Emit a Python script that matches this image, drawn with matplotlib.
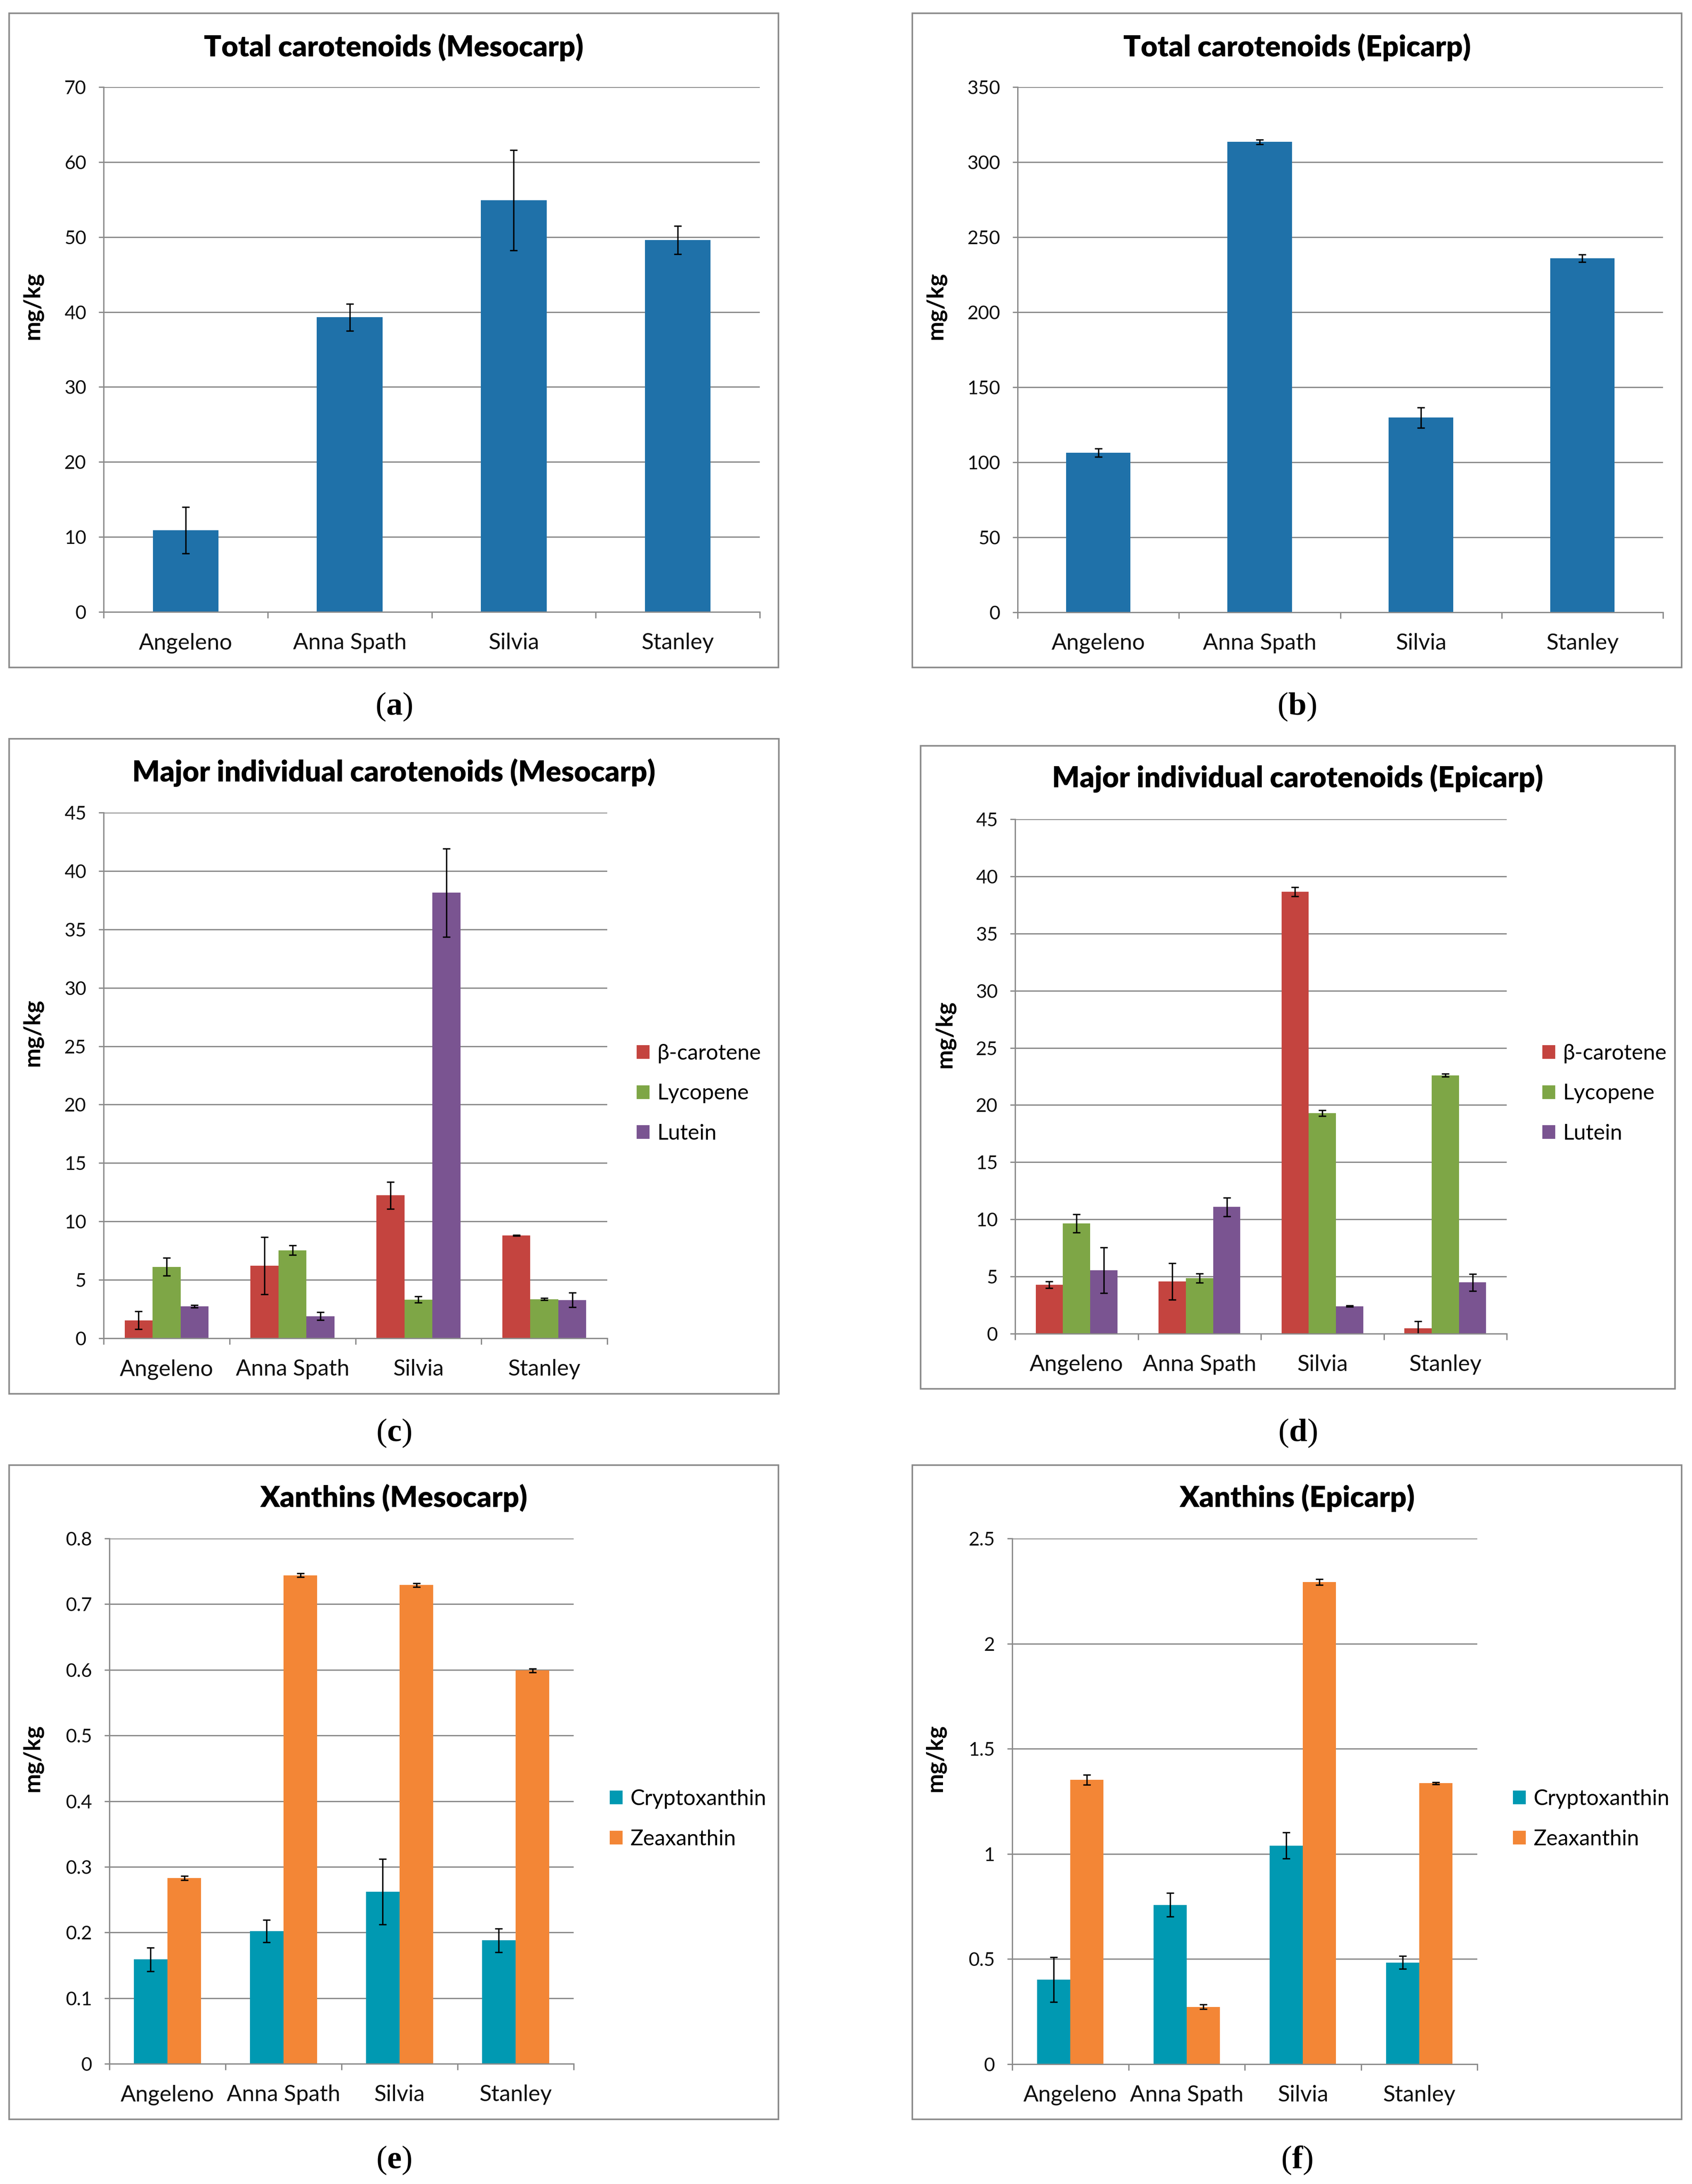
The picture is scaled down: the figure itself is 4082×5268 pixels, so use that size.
import matplotlib
matplotlib.use("Agg")
import matplotlib.pyplot as plt
from matplotlib.patches import Rectangle, Patch
from matplotlib.ticker import FuncFormatter

plt.rcParams['font.family'] = ['Lato', 'DejaVu Sans']
plt.rcParams['mathtext.fontset'] = 'custom'
plt.rcParams['mathtext.rm'] = 'Liberation Serif'
plt.rcParams['mathtext.bf'] = 'Liberation Serif:bold'

# data
cultivars = ["Angeleno", "Anna Spath", "Silvia", "Stanley"]

total_meso = [10.9, 39.3, 54.9, 49.6]
total_meso_err = [3.1, 1.8, 6.7, 1.9]
total_epi = [106.4, 313.5, 129.8, 235.8]
total_epi_err = [2.8, 1.5, 6.8, 2.5]

major_labels = ["β-carotene", "Lycopene", "Lutein"]
beta_meso = [1.54, 6.2, 12.24, 8.81]
beta_meso_err = [0.77, 2.45, 1.15, 0.03]
lyco_meso = [6.12, 7.54, 3.31, 3.35]
lyco_meso_err = [0.77, 0.4, 0.27, 0.1]
lut_meso = [2.73, 1.89, 38.14, 3.27]
lut_meso_err = [0.1, 0.34, 3.77, 0.62]

beta_epi = [4.28, 4.56, 38.64, 0.47]
beta_epi_err = [0.3, 1.6, 0.4, 0.6]
lyco_epi = [9.63, 4.87, 19.3, 22.6]
lyco_epi_err = [0.8, 0.4, 0.25, 0.12]
lut_epi = [5.54, 11.08, 2.4, 4.48]
lut_epi_err = [2.0, 0.82, 0.05, 0.75]

xan_labels = ["Cryptoxanthin", "Zeaxanthin"]
crypto_meso = [0.159, 0.202, 0.262, 0.188]
crypto_meso_err = [0.018, 0.017, 0.05, 0.018]
zea_meso = [0.283, 0.744, 0.729, 0.599]
zea_meso_err = [0.003, 0.003, 0.003, 0.003]
crypto_epi = [0.402, 0.758, 1.04, 0.484]
crypto_epi_err = [0.107, 0.056, 0.062, 0.03]
zea_epi = [1.353, 0.273, 2.293, 1.336]
zea_epi_err = [0.024, 0.01, 0.013, 0.005]

BLUE = "#1f71a9"
RED = "#c4443f"
GREEN = "#7ea646"
PURPLE = "#7a5491"
TEAL = "#0099b2"
ORANGE = "#f38636"
GRAY = "#8a8a8a"

W, H = 4082, 5268
fig = plt.figure(figsize=(W / 300, H / 300), dpi=300)


def fx(px):
    return px / W


def fy(py):
    return 1 - py / H


def make_panel(box, axpos, title, title_y, ylab_x, ylab_y, ymax, ystep,
               series, errs, colors, width, labels=None, leg=None):
    l, t, r, b = box
    fig.patches.append(Rectangle((fx(l), fy(b)), fx(r - l), (b - t) / H,
                                 transform=fig.transFigure, fill=False,
                                 edgecolor=GRAY, linewidth=0.9))
    al, at, ar, ab = axpos
    ax = fig.add_axes([fx(al), fy(ab), fx(ar - al), (ab - at) / H])
    n = len(series)
    xs = range(len(cultivars))
    for i, (vals, err, col) in enumerate(zip(series, errs, colors)):
        off = (i - (n - 1) / 2) * width
        pos = [x + off for x in xs]
        ax.bar(pos, vals, width=width, color=col, linewidth=0, zorder=3,
               label=labels[i] if labels else None)
        ax.errorbar(pos, vals, yerr=err, fmt='none', ecolor='black',
                    elinewidth=0.8, capsize=2.2, capthick=0.8, zorder=4)
    ax.set_xlim(-0.5, len(cultivars) - 0.5)
    ax.set_ylim(0, ymax)
    ticks = []
    v = 0
    while v <= ymax + 1e-9:
        ticks.append(round(v, 6))
        v += ystep
    ax.set_yticks(ticks)
    ax.yaxis.set_major_formatter(FuncFormatter(lambda val, p: "%g" % val))
    ax.set_xticks(list(xs))
    ax.set_xticklabels(cultivars, fontsize=13, color="#111111")
    ax.set_xticks([x - 0.5 for x in range(len(cultivars) + 1)], minor=True)
    ax.tick_params(axis='x', which='major', length=0, pad=12)
    ax.tick_params(axis='x', which='minor', length=3.6, width=0.75, color=GRAY)
    ax.tick_params(axis='y', length=3, width=0.75, color=GRAY, pad=7,
                   labelsize=11, labelcolor="#111111")
    ax.grid(axis='y', color=GRAY, linewidth=0.75, zorder=0)
    ax.set_axisbelow(True)
    for s in ['top', 'right']:
        ax.spines[s].set_visible(False)
    for s in ['left', 'bottom']:
        ax.spines[s].set_color(GRAY)
        ax.spines[s].set_linewidth(0.75)
        ax.spines[s].set_zorder(5)
    fig.text(fx((l + r) / 2), fy(title_y), title, ha='center', va='center',
             fontsize=16.7, fontweight='heavy')
    fig.text(fx(ylab_x), fy(ylab_y), "mg/kg", rotation=90, ha='center',
             va='center', fontsize=13.5, fontweight='bold')
    if leg is not None:
        handles = [Patch(facecolor=c, edgecolor='none') for c in colors]
        ax.legend(handles, labels, loc='center left',
                  bbox_to_anchor=(fx(leg[0]), fy(leg[1])),
                  bbox_transform=fig.transFigure, frameon=False,
                  fontsize=12.5, handlelength=0.6, handleheight=0.6,
                  handletextpad=0.35, labelspacing=0.95, borderpad=0,
                  borderaxespad=0)
    return ax


make_panel((22, 32, 1878, 1610), (250, 210, 1833, 1476),
           "Total carotenoids (Mesocarp)", 114, 78, 738, 70, 10,
           [total_meso], [total_meso_err], [BLUE], 0.4)
make_panel((2201, 32, 4057, 1610), (2455, 210, 4012, 1477),
           "Total carotenoids (Epicarp)", 114, 2257, 738, 350, 50,
           [total_epi], [total_epi_err], [BLUE], 0.4)
make_panel((22, 1782, 1879, 3362), (250, 1960, 1465, 3228),
           "Major individual carotenoids (Mesocarp)", 1864, 78, 2491, 45, 5,
           [beta_meso, lyco_meso, lut_meso],
           [beta_meso_err, lyco_meso_err, lut_meso_err],
           [RED, GREEN, PURPLE], 0.222, major_labels, (1536, 2638))
make_panel((2221, 1799, 4041, 3350), (2449, 1976, 3635, 3217),
           "Major individual carotenoids (Epicarp)", 1878, 2279, 2495, 45, 5,
           [beta_epi, lyco_epi, lut_epi],
           [beta_epi_err, lyco_epi_err, lut_epi_err],
           [RED, GREEN, PURPLE], 0.222, major_labels, (3721, 2638))
make_panel((22, 3534, 1878, 5112), (264, 3711, 1384, 4978),
           "Xanthins (Mesocarp)", 3613, 78, 4241, 0.8, 0.1,
           [crypto_meso, zea_meso], [crypto_meso_err, zea_meso_err],
           [TEAL, ORANGE], 0.29, xan_labels, (1471, 4388))
make_panel((2201, 3534, 4057, 5112), (2442, 3711, 3564, 4979),
           "Xanthins (Epicarp)", 3613, 2256, 4241, 2.5, 0.5,
           [crypto_epi, zea_epi], [crypto_epi_err, zea_epi_err],
           [TEAL, ORANGE], 0.285, xan_labels, (3650, 4388))

# panel letters
for letter, x, y in [("a", 950, 1705), ("b", 3129, 1705), ("c", 950, 3457),
                     ("d", 3131, 3457), ("e", 950, 5211), ("f", 3129, 5211)]:
    fig.text(fx(x), fy(y), "($\\mathbf{%s}$)" % letter, ha='center',
             va='center', fontsize=19, family='Liberation Serif')

fig.savefig("out.png", dpi=300)
